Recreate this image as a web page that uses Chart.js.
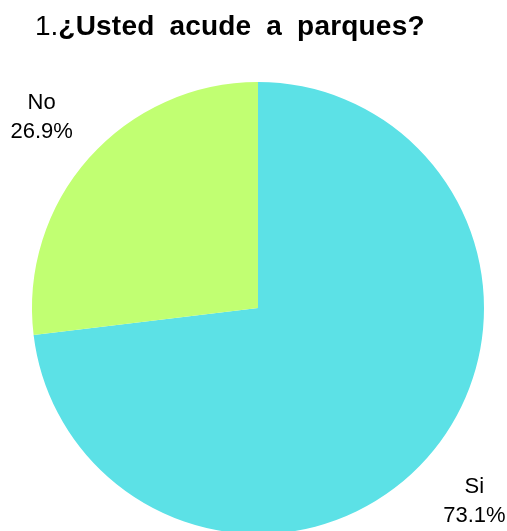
<!DOCTYPE html>
<html>
<head>
<meta charset="utf-8">
<script src="https://cdn.jsdelivr.net/npm/chart.js@4"></script>
<style>
  html, body { margin: 0; padding: 0; background: #fff; overflow: hidden; }
  body { width: 507px; height: 531px; position: relative; }
  #title {
    position: absolute; left: 35px; top: 10px;
    font-family: "Liberation Sans", Arial, sans-serif; font-size: 28px;
    word-spacing: 7px; color: #000; white-space: nowrap;
  }
  #title b { letter-spacing: 0.2px; }
  #wrap { position: absolute; left: 0; top: 0; width: 507px; height: 600px; }
</style>
</head>
<body>
<div id="wrap"><canvas id="pie"></canvas></div>
<div id="title">1.<b>¿Usted acude a parques?</b></div>
<script>
// answers and their shares
const labels = ['Si', 'No'];
const values = [73.1, 26.9];
const colors = ['#5CE1E6', '#C1FF72'];

// draws "label / percent" outside each slice
const outsideLabels = {
  id: 'outsideLabels',
  afterDraw(chart) {
    const ctx = chart.ctx;
    const meta = chart.getDatasetMeta(0);
    ctx.save();
    ctx.font = '22px "Liberation Sans", Arial, sans-serif';
    ctx.fillStyle = '#000';
    ctx.textAlign = 'center';
    ctx.textBaseline = 'middle';
    meta.data.forEach((arc, i) => {
      const mid = (arc.startAngle + arc.endAngle) / 2;
      const r = arc.outerRadius * 1.28;
      const x = arc.x + Math.cos(mid) * r;
      const y = arc.y + Math.sin(mid) * r;
      ctx.fillText(labels[i], x, y - 13);
      ctx.fillText(values[i].toFixed(1) + '%', x, y + 16);
    });
    ctx.restore();
  }
};

new Chart(document.getElementById('pie'), {
  type: 'pie',
  data: {
    labels: labels,
    datasets: [{
      data: values,
      backgroundColor: colors,
      borderWidth: 0
    }]
  },
  options: {
    responsive: true,
    maintainAspectRatio: false,
    animation: false,
    layout: { padding: { top: 82, bottom: 66, left: 32, right: 23 } },
    plugins: {
      legend: { display: false },
      tooltip: { enabled: false }
    }
  },
  plugins: [outsideLabels]
});
</script>
</body>
</html>
